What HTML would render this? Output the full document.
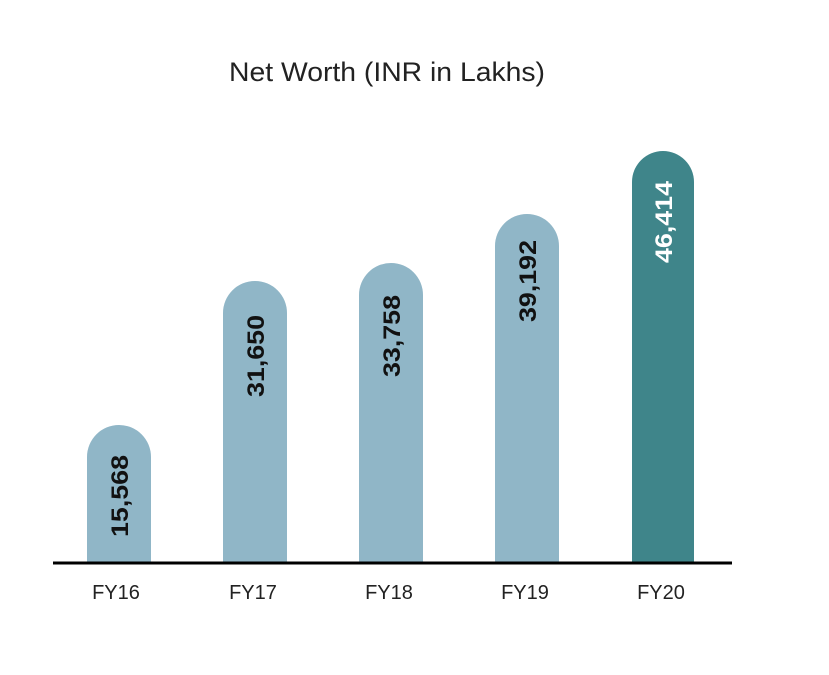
<!DOCTYPE html>
<html><head><style>body{margin:0;background:#fff}</style></head><body>
<svg width="829" height="670" xmlns="http://www.w3.org/2000/svg" font-family="Liberation Sans, sans-serif">
<text x="229" y="81" textLength="316" lengthAdjust="spacingAndGlyphs" font-size="27" fill="#222">Net Worth (INR in Lakhs)</text>
<g fill="#90b6c7">
<path d="M87,563 V457 A32,32 0 0 1 151,457 V563 Z"/>
<path d="M223,563 V313 A32,32 0 0 1 287,313 V563 Z"/>
<path d="M359,563 V295 A32,32 0 0 1 423,295 V563 Z"/>
<path d="M495,563 V246 A32,32 0 0 1 559,246 V563 Z"/>
</g>
<path d="M632,563 V182 A31,31 0 0 1 694,182 V563 Z" fill="#3f858a"/>
<rect x="53" y="561.5" width="679" height="3" fill="#000"/>
<g font-size="24" font-weight="bold">
<text transform="translate(128,537) rotate(-90)" fill="#111" textLength="82" lengthAdjust="spacingAndGlyphs">15,568</text>
<text transform="translate(264,397) rotate(-90)" fill="#111" textLength="82" lengthAdjust="spacingAndGlyphs">31,650</text>
<text transform="translate(400,377) rotate(-90)" fill="#111" textLength="82" lengthAdjust="spacingAndGlyphs">33,758</text>
<text transform="translate(536,322) rotate(-90)" fill="#111" textLength="82" lengthAdjust="spacingAndGlyphs">39,192</text>
<text transform="translate(672,263) rotate(-90)" fill="#fff" textLength="82" lengthAdjust="spacingAndGlyphs">46,414</text>
</g>
<g font-size="20" text-anchor="middle" fill="#222">
<text x="116" y="599">FY16</text>
<text x="253" y="599">FY17</text>
<text x="389" y="599">FY18</text>
<text x="525" y="599">FY19</text>
<text x="661" y="599">FY20</text>
</g>
</svg>
</body></html>
